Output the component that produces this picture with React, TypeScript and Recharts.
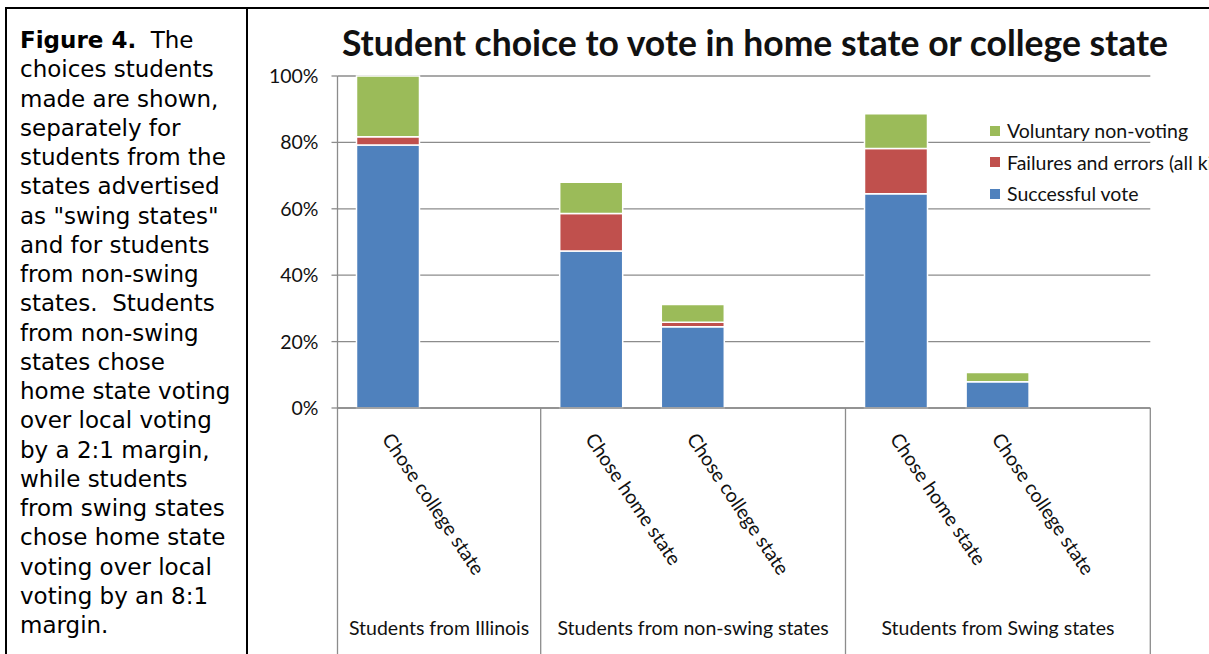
import React from "react";
import { BarChart, Bar, XAxis, YAxis, CartesianGrid, Legend } from "recharts";

// one slot per category, empty strings are the blank slots Excel leaves in each group
const categories = [
  "Chose college state",
  "",
  "Chose home state",
  "Chose college state",
  "",
  "Chose home state",
  "Chose college state",
  "",
];
const groups = ["Students from Illinois", "Students from non-swing states", "Students from Swing states"];
const groupOfCategory = [0, 0, 1, 1, 1, 2, 2, 2];

const successfulVote = [79.2, null, 47.3, 24.5, null, 64.5, 7.9, null];
const failuresErrors = [2.5, null, 11.3, 1.3, null, 13.7, 0, null];
const voluntaryNonVoting = [18.3, null, 9.4, 5.4, null, 10.4, 2.8, null];

const seriesNames = ["Successful vote", "Failures and errors (all kinds)", "Voluntary non-voting"];
const seriesColors = ["#4F81BD", "#C0504D", "#9BBB59"];

const yTicks = [0, 20, 40, 60, 80, 100];

const captionLines = [
  "choices students",
  "made are shown,",
  "separately for",
  "students from the",
  "states advertised",
  'as "swing states"',
  "and for students",
  "from non-swing",
  "states.  Students",
  "from non-swing",
  "states chose",
  "home state voting",
  "over local voting",
  "by a 2:1 margin,",
  "while students",
  "from swing states",
  "chose home state",
  "voting over local",
  "voting by an 8:1",
  "margin.",
];

const data = categories.map((name, i) => ({
  key: "c" + i,
  name,
  successful: successfulVote[i],
  failures: failuresErrors[i],
  voluntary: voluntaryNonVoting[i],
}));

const W = 1209;
const H = 654;
const margin = { top: 76, right: 58.7, bottom: 0, left: 277.5 };
const yAxisW = 60;
const plotW = W - margin.left - margin.right - yAxisW;
const slot = plotW / categories.length;

const FONT = "Lato, 'Noto Sans', sans-serif";
const FS = 19.5;

const CategoryTick = (props: any) => {
  const { x, y, index } = props;
  const g = groupOfCategory[index];
  const first = index === 0 || groupOfCategory[index - 1] !== g;
  const count = groupOfCategory.filter((v) => v === g).length;
  const left = x - slot / 2;
  const label = categories[index];
  const lx = x - 7;
  const ly = y + 31;
  return (
    <g>
      {label && (
        <text x={lx} y={ly} transform={`rotate(56 ${lx} ${ly})`} fontSize={FS} fontFamily={FONT} fill="#111">
          {label}
        </text>
      )}
      {first && <line x1={left} x2={left} y1={y} y2={y + 260} stroke="#8c8c8c" strokeWidth={1.3} />}
      {first && (
        <text x={left + (count * slot) / 2} y={y + 227} textAnchor="middle" fontSize={FS} fontFamily={FONT} fill="#111">
          {groups[g]}
        </text>
      )}
      {index === categories.length - 1 && (
        <line x1={x + slot / 2} x2={x + slot / 2} y1={y} y2={y + 260} stroke="#8c8c8c" strokeWidth={1.3} />
      )}
    </g>
  );
};

// legend lists the stack top-down, like the Excel original
const renderLegend = () => {
  const order = [2, 1, 0];
  return (
    <div style={{ fontFamily: FONT, fontSize: FS, color: "#111", whiteSpace: "nowrap" }}>
      {order.map((i) => (
        <div key={seriesNames[i]} style={{ display: "flex", alignItems: "center", height: 31.5 }}>
          <span style={{ width: 10, height: 10, background: seriesColors[i], marginRight: 7, display: "inline-block" }} />
          {seriesNames[i]}
        </div>
      ))}
    </div>
  );
};

export default function App() {
  return (
    <div
      style={{
        position: "absolute",
        left: 0,
        top: 0,
        width: W,
        height: H,
        overflow: "hidden",
        background: "#fff",
      }}
    >
      <BarChart width={W} height={H} data={data} margin={margin} barSize={63}>
        <CartesianGrid vertical={false} stroke="#8c8c8c" strokeWidth={1.3} />
        <XAxis
          dataKey="key"
          height={246}
          interval={0}
          tickLine={false}
          tickSize={0}
          tickMargin={0}
          axisLine={{ stroke: "#8c8c8c", strokeWidth: 1.3 }}
          tick={<CategoryTick />}
        />
        <YAxis
          width={yAxisW}
          domain={[0, 100]}
          ticks={yTicks}
          tickFormatter={(v) => `${v}%`}
          tickSize={6}
          tickMargin={13}
          axisLine={{ stroke: "#8c8c8c", strokeWidth: 1.3 }}
          tickLine={{ stroke: "#8c8c8c", strokeWidth: 1.3 }}
          tick={{ fontSize: FS, fontFamily: FONT, fill: "#111" }}
        />
        <Legend
          layout="vertical"
          align="center"
          verticalAlign="middle"
          content={renderLegend}
          wrapperStyle={{ position: "absolute", left: 990, top: 115, width: 320 }}
        />
        <Bar dataKey="successful" name={seriesNames[0]} stackId="a" fill={seriesColors[0]} stroke="#fff" strokeWidth={1.5} isAnimationActive={false} />
        <Bar dataKey="failures" name={seriesNames[1]} stackId="a" fill={seriesColors[1]} stroke="#fff" strokeWidth={1.5} isAnimationActive={false} />
        <Bar dataKey="voluntary" name={seriesNames[2]} stackId="a" fill={seriesColors[2]} stroke="#fff" strokeWidth={1.5} isAnimationActive={false} />
      </BarChart>

      <div
        style={{
          position: "absolute",
          left: 300,
          top: 22,
          width: 910,
          textAlign: "center",
          fontFamily: FONT,
          fontWeight: 700,
          fontSize: 35.5,
          lineHeight: "42px",
          color: "#111",
          whiteSpace: "nowrap",
        }}
      >
        Student choice to vote in home state or college state
      </div>

      {/* frame lines */}
      <div style={{ position: "absolute", left: 5, top: 7, width: W, height: 0, borderTop: "2px solid #000" }} />
      <div style={{ position: "absolute", left: 5, top: 7, width: 0, height: H, borderLeft: "2px solid #000" }} />
      <div style={{ position: "absolute", left: 246, top: 7, width: 0, height: H, borderLeft: "2px solid #000" }} />

      <div
        style={{
          position: "absolute",
          left: 20,
          top: 26,
          fontFamily: "'DejaVu Sans', sans-serif",
          fontSize: 23,
          lineHeight: "29.25px",
          color: "#000",
          whiteSpace: "pre",
        }}
      >
        <div>
          <b>Figure 4.</b>{"  The"}
        </div>
        {captionLines.map((l, i) => (
          <div key={i}>{l}</div>
        ))}
      </div>
    </div>
  );
}
